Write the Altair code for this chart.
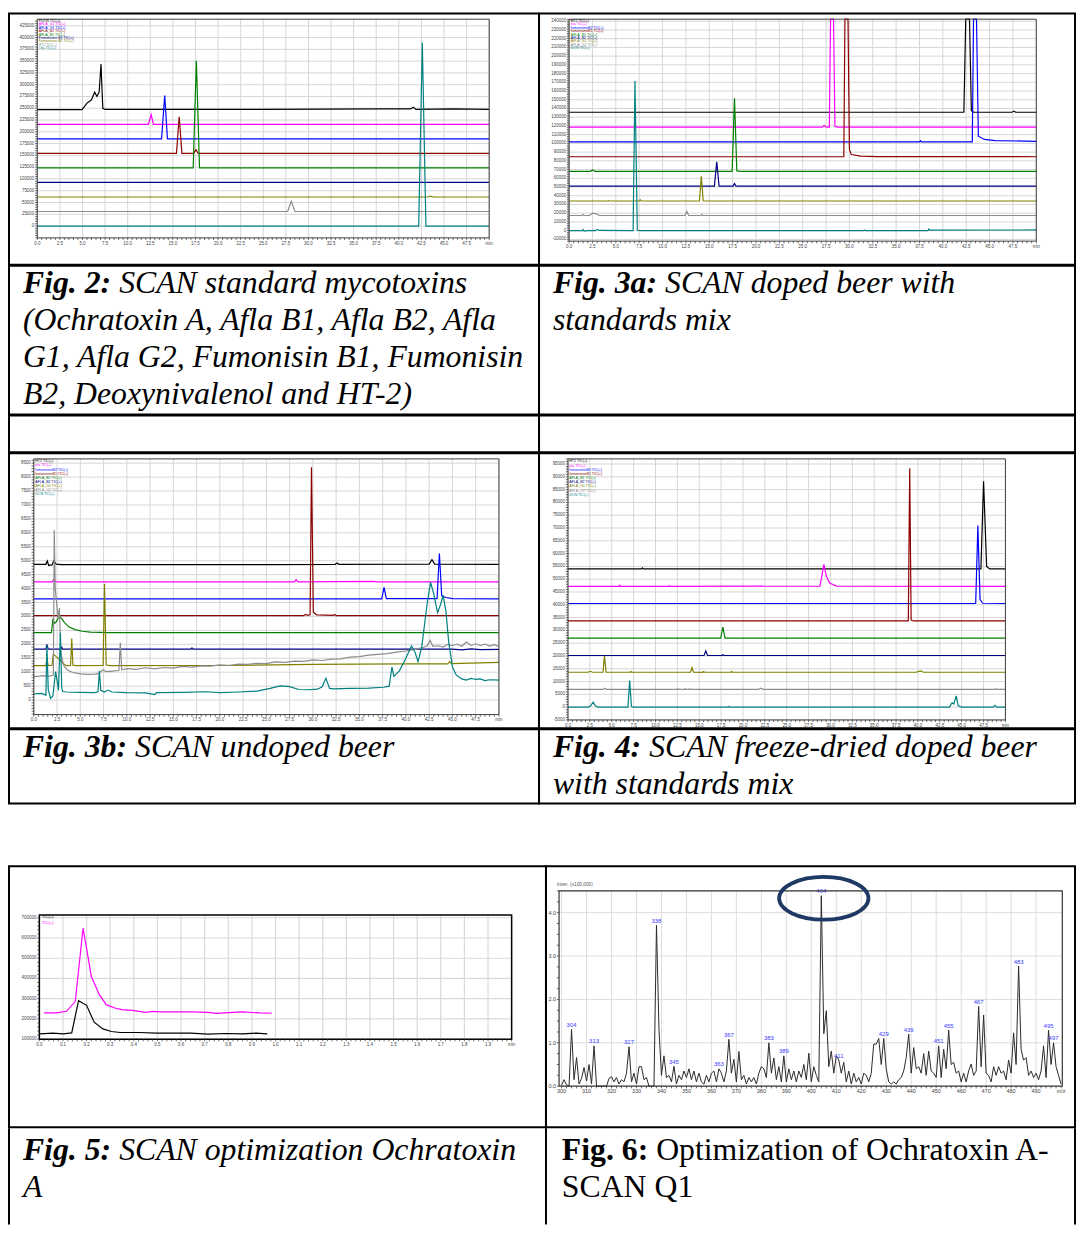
import altair as alt
import pandas as pd

# ===================== DATA =====================
# Fig. 2 - SCAN standard mycotoxins : (retention time [min], intensity)
F2_DON = [(0, 247000), (4.95, 247000), (5.5, 261000), (6.0, 268000), (6.35, 284000), (6.6, 275000),
          (6.85, 285000), (7.05, 343600), (7.25, 250000), (7.5, 247500), (25, 247500), (38, 248500),
          (41.3, 248500), (41.6, 252000), (41.9, 247500), (46, 248500), (50, 247500)]
F2_AG2 = [(0, 216000), (12.3, 216000), (12.6, 236300), (12.85, 216000), (50, 216000)]
F2_AG1 = [(0, 185100), (13.75, 185100), (14.1, 277000), (14.4, 185100), (50, 185100)]
F2_AB2 = [(0, 154300), (15.4, 154300), (15.7, 232100), (16.0, 154300), (17.3, 154300), (17.55, 162000),
          (17.8, 154300), (50, 154300)]
F2_AB1 = [(0, 123400), (17.25, 123400), (17.6, 350600), (17.95, 123400), (50, 123400)]
F2_FB1 = [(0, 92600), (50, 92600)]
F2_FB2 = [(0, 61700), (43.2, 61700), (43.5, 63500), (43.8, 61700), (50, 61700)]
F2_HT2 = [(0, 30900), (27.7, 30900), (28.1, 52600), (28.5, 30900), (50, 30900)]
F2_OTA = [(0, 0), (42.2, 0), (42.6, 389200), (43.0, 0), (50, 0)]
F2_NAMES = ["FDON TIC(+)", "AFLA_G2 TIC(+)", "AFLA_G1 TIC(+)", "AFLA_B2 TIC(+)", "AFLA_B1 TIC(+)",
            "Fumonisine B1 TIC(+)", "Fumonisine B2 TIC(+)", "HT2 TIC(+)", "Ota TIC(+)"]

# Fig. 3a - doped beer with standards mix (peaks leaving the frame are read at the frame top)
F3A_HT2 = [(0, 135700), (42.25, 135700), (42.45, 242300), (42.85, 242300), (43.05, 137500), (43.3, 135700),
           (47.4, 135700), (47.6, 137000), (47.8, 135700), (50, 135700)]
F3A_OTA = [(0, 118700), (27.1, 118700), (27.3, 120500), (27.5, 118700), (27.85, 118700), (27.98, 242300),
           (28.3, 242300), (28.45, 119500), (28.7, 118700), (50, 118700)]
F3A_FB2 = [(0, 101700), (37.5, 101700), (37.6, 103000), (37.7, 101700), (43.15, 101800), (43.28, 242300),
           (43.6, 242300), (43.8, 108200), (44.45, 104500), (45.6, 103200), (50, 102400)]
F3A_FB1 = [(0, 84700), (29.4, 84700), (29.52, 242300), (29.85, 242300), (30.0, 93000), (30.2, 87300),
           (31.2, 85400), (33, 84900), (50, 84700)]
F3A_AB1 = [(0, 68000), (2.3, 68000), (2.5, 69500), (2.8, 68000), (17.45, 68000), (17.7, 151600),
           (17.95, 68500), (18.3, 68000), (50, 68000)]
F3A_AB2 = [(0, 51000), (15.55, 51000), (15.8, 79000), (16.05, 51000), (17.55, 51000), (17.7, 54000),
           (17.85, 51000), (50, 51000)]
F3A_AG1 = [(0, 34000), (4.1, 34000), (4.2, 34500), (4.3, 34000), (7.5, 34000), (7.6, 35500), (7.7, 34000),
           (13.95, 34000), (14.15, 62400), (14.35, 34000), (50, 34000)]
F3A_AG2 = [(0, 17400), (1.4, 17400), (1.5, 18500), (1.6, 17400), (2.2, 17400), (2.5, 20000), (3.0, 19000),
           (3.2, 17400), (12.4, 17400), (12.6, 22300), (12.8, 17400), (14.1, 17400), (14.2, 18500),
           (14.3, 17400), (50, 17400)]
F3A_DON = [(0, 0), (1.4, 0), (1.5, 1200), (1.6, -500), (2.0, 0), (2.8, 0), (3.0, 1500), (3.2, 300),
           (6.85, 0), (7.05, 171600), (7.3, 500), (7.6, 0), (31.5, 0), (31.6, 800), (31.7, 0),
           (38.4, 0), (38.5, 1800), (38.6, 600), (50, 800)]
F3_NAMES = ["HT2 TIC(+)", "ota TIC(+)", "fumonisineB2 TIC(+)", "fumonisineB1 TIC(+)", "AFLA_B1 TIC(+)",
            "AFLA_B2 TIC(+)", "AFLA_G1 TIC(+)", "AFLA_G2 TIC(+)", "DON TIC(+)"]

# Fig. 3b - undoped beer
F3B_HT2 = [(0, 4870), (1.3, 4870), (1.45, 4990), (1.6, 4830), (1.95, 4850), (2.15, 4990), (2.4, 4880),
           (3.0, 4860), (15, 4860), (25, 4860), (32.4, 4870), (32.6, 4920), (32.8, 4870), (42.5, 4880),
           (42.8, 5040), (43.1, 4880), (50, 4870)]
F3B_OTA = [(0, 4240), (2.0, 4240), (2.15, 4330), (2.35, 4250), (2.6, 4240), (28.0, 4240), (28.2, 4320),
           (28.4, 4240), (36.5, 4260), (36.9, 4240), (50, 4240)]
F3B_FB2 = [(0, 3634), (37.4, 3634), (37.65, 4040), (37.9, 3640), (43.35, 3640), (43.6, 5260), (43.85, 3740),
           (44.3, 3680), (45.0, 3640), (50, 3630)]
F3B_FB1 = [(0, 3029), (29.0, 3029), (29.2, 3070), (29.45, 3040), (29.7, 3060), (29.85, 8349), (30.05, 3150),
           (30.4, 3060), (32.2, 3040), (32.35, 3070), (32.5, 3030), (50, 3029)]
F3B_AB1 = [(0, 2423), (1.9, 2423), (2.05, 2920), (2.2, 2750), (2.4, 2800), (2.7, 3017), (3.0, 2920),
           (3.3, 2780), (3.8, 2620), (4.45, 2530), (5.2, 2470), (6.1, 2440), (8, 2423), (50, 2423)]
F3B_AB2 = [(0, 1829), (1.3, 1829), (1.41, 2000), (1.55, 1829), (2.9, 1829), (3.0, 1900), (3.1, 1829),
           (16.9, 1829), (17.0, 1870), (17.1, 1829), (45, 1829), (46, 1800), (47, 1840), (48, 1810), (50, 1820)]
F3B_AG1 = [(0, 1235), (1.3, 1235), (1.41, 1500), (1.55, 1240), (1.95, 1240), (2.1, 1650), (2.4, 1560),
           (2.8, 1450), (3.2, 1300), (3.5, 1235), (3.95, 1240), (4.08, 2210), (4.2, 1260), (4.5, 1235),
           (7.45, 1240), (7.6, 4170), (7.78, 1260), (8.2, 1235), (20, 1240), (30, 1280), (40, 1300),
           (44.5, 1300), (44.7, 1380), (44.9, 1310), (50, 1354)]
F3B_AG2 = [(0, 843), (0.6, 860), (1.0, 880), (1.5, 850), (1.9, 880), (2.1, 900), (2.2, 6105), (2.3, 3990),
           (2.45, 3515), (2.6, 2900), (2.75, 3300), (2.9, 1700), (3.2, 1250), (3.6, 1080), (4.2, 990),
           (5.0, 940), (5.8, 920), (6.6, 930), (7.0, 960), (7.4, 1080), (7.8, 1020), (8.4, 1040),
           (9.15, 1060), (9.3, 2054), (9.45, 1090), (10, 1130), (11, 1100), (12, 1160), (13, 1120),
           (14, 1170), (15, 1150), (16, 1210), (17, 1180), (18, 1230), (19, 1220), (20, 1260), (21, 1240),
           (22, 1290), (23, 1280), (24, 1320), (25, 1310), (26, 1370), (27, 1350), (28, 1400), (29, 1390),
           (30, 1440), (31, 1420), (32, 1470), (33, 1480), (34, 1540), (35, 1560), (36, 1610), (37, 1640),
           (38, 1670), (39, 1720), (40, 1760), (41, 1820), (41.8, 1880), (42.3, 1950), (42.6, 2140),
           (42.9, 1930), (43.5, 1950), (44, 1900), (44.5, 2000), (45, 1950), (45.5, 2010), (46, 1930),
           (46.5, 2080), (47, 1960), (47.5, 2020), (48, 1950), (48.5, 2010), (49, 1940), (49.5, 1990),
           (50, 1920)]
F3B_DON = [(0, 226), (0.9, 240), (1.3, 170), (1.41, 1970), (1.55, 380), (1.8, 60), (2.05, 150), (2.34, 1021),
           (2.55, 600), (2.65, 350), (2.86, 2411), (3.0, 450), (3.1, 309), (3.5, 290), (5, 280), (6.5, 270),
           (6.9, 300), (7.05, 1050), (7.2, 350), (7.6, 290), (8.0, 360), (8.4, 290), (10, 270), (12, 260),
           (13, 200), (13.2, 270), (16, 280), (18.5, 300), (20, 270), (22, 290), (24, 320), (25.4, 420),
           (26.5, 511), (27.5, 480), (28.5, 380), (29.5, 370), (30.5, 390), (31.0, 480), (31.4, 784),
           (31.8, 420), (32.2, 400), (34, 420), (36, 430), (37.6, 460), (38.2, 500), (38.5, 1188),
           (38.7, 850), (39.3, 1050), (40.0, 1500), (40.6, 1948), (41.0, 1700), (41.3, 1380), (41.7, 1900),
           (42.3, 3500), (42.65, 4228), (43.0, 3800), (43.4, 3135), (43.7, 3400), (44.0, 3753), (44.3, 3200),
           (44.6, 2090), (45.0, 1200), (45.4, 903), (46.0, 760), (46.5, 720), (47.0, 780), (47.5, 740),
           (48.0, 760), (48.5, 700), (49, 730), (50, 713)]

# Fig. 4 - freeze-dried doped beer with standards mix
F4_HT2 = [(0, 54000), (8.4, 54000), (8.5, 54400), (8.6, 54000), (47.2, 54000), (47.5, 88300), (47.85, 55000),
          (48.2, 54000), (50, 54000)]
F4_OTA = [(0, 47170), (5.8, 47170), (5.9, 47600), (6.0, 47170), (11.5, 47170), (11.6, 47500), (11.7, 47170),
          (28.8, 47300), (29.0, 51000), (29.25, 55780), (29.5, 51500), (29.9, 48500), (30.7, 47300), (50, 47170)]
F4_FB2 = [(0, 40490), (46.6, 40490), (46.85, 70950), (47.1, 42000), (47.4, 40600), (50, 40490)]
F4_FB1 = [(0, 33680), (38.9, 33680), (39.06, 93320), (39.22, 34000), (39.5, 33680), (50, 33680)]
F4_AB1 = [(0, 27000), (17.45, 27000), (17.7, 31230), (17.95, 27000), (50, 27000)]
F4_AB2 = [(0, 20180), (15.55, 20180), (15.75, 21980), (15.95, 20180), (17.6, 20180), (17.7, 20500),
          (17.8, 20180), (50, 20180)]
F4_AG1 = [(0, 13625), (2.3, 13625), (2.56, 14000), (2.8, 13625), (4.0, 13625), (4.17, 20050), (4.35, 13700),
          (4.6, 13625), (7.1, 13625), (7.2, 13900), (7.3, 13625), (14.0, 13625), (14.17, 15420),
          (14.35, 13700), (15.4, 13625), (15.5, 13900), (15.6, 13625), (18.6, 13625), (18.7, 13900),
          (18.8, 13625), (39.8, 13625), (40.0, 13900), (40.35, 14200), (40.6, 13625), (50, 13625)]
F4_AG2 = [(0, 6940), (4.0, 6940), (4.2, 7400), (4.4, 6940), (12.5, 6940), (12.6, 7200), (12.7, 6940),
          (13.3, 6940), (13.4, 7200), (13.5, 6940), (13.8, 6940), (13.9, 7200), (14.0, 6940), (21.8, 6940),
          (22.0, 7400), (22.3, 6940), (23.0, 7000), (23.2, 6940), (48.8, 6940), (49.0, 7150), (49.2, 6940),
          (50, 6940)]
F4_DON = [(0, 0), (2.3, 0), (2.6, 500), (2.87, 1928), (3.1, 600), (3.4, 0), (6.85, 0), (7.05, 10410),
          (7.25, 200), (7.5, 0), (18.3, 0), (18.4, 300), (18.5, 0), (43.6, 0), (43.9, 1700), (44.1, 1200),
          (44.37, 4370), (44.6, 500), (45.0, 0), (48.6, 0), (48.8, 700), (49.0, 0), (50, 0)]

# Fig. 5 - SCAN optimization Ochratoxin A
F5_A = [(0.000, 126200), (0.057, 129500), (0.101, 126200), (0.137, 131100), (0.166, 290200), (0.200, 267200),
        (0.232, 183600), (0.269, 150800), (0.305, 137700), (0.342, 132800), (0.422, 132800), (0.495, 129500),
        (0.568, 129500), (0.641, 129500), (0.714, 124600), (0.787, 127900), (0.860, 126200), (0.918, 129500),
        (0.965, 126200)]
F5_B = [(0.020, 229500), (0.072, 229500), (0.115, 237700), (0.152, 286900), (0.185, 647500), (0.200, 549200),
        (0.220, 409800), (0.254, 319700), (0.283, 270500), (0.320, 254100), (0.349, 245900), (0.393, 242600),
        (0.451, 232800), (0.480, 237700), (0.509, 234400), (0.568, 234400), (0.641, 234400), (0.714, 232800),
        (0.750, 227900), (0.801, 231100), (0.860, 234400), (0.933, 229500), (0.984, 227900)]
F5_NAMES = ["TIC(+)", "TIC(+)"]

# Fig. 6 - Q1 scan spectrum, intensity (x100,000) at m/z 300 ... 500
SPEC_MZ = list(range(300, 501))
SPEC_I = [0.02, 0.15, 0.03, 0.0, 1.31, 0.15, 0.66, 0.05, 0.18, 0.43,
          0.12, 0.50, 0.05, 0.93, 0.0, 0.0, 0.0, 0.0, 0.0, 0.18,
          0.22, 0.10, 0.20, 0.05, 0.15, 0.10, 0.30, 0.91, 0.10, 0.30,
          0.05, 0.45, 0.45, 0.15, 0.20, 0.0, 0.0, 0.0, 3.71, 1.31,
          0.25, 0.70, 0.20, 0.25, 0.10, 0.46, 0.05, 0.25, 0.15, 0.35,
          0.20, 0.40, 0.15, 0.35, 0.10, 0.30, 0.10, 0.05, 0.25, 0.10,
          0.30, 0.35, 0.10, 0.40, 0.30, 0.10, 0.35, 1.08, 0.30, 0.62,
          0.10, 0.80, 0.15, 0.25, 0.05, 0.20, 0.10, 0.20, 0.05, 0.30,
          0.45, 0.40, 0.20, 1.00, 0.30, 0.65, 0.15, 0.45, 0.10, 0.70,
          0.10, 0.40, 0.15, 0.35, 0.10, 0.35, 0.20, 0.50, 0.15, 0.76,
          0.10, 0.45, 0.25, 0.10, 4.39, 1.21, 1.74, 0.45, 0.81, 0.30,
          0.70, 0.60, 0.30, 0.55, 0.10, 0.35, 0.05, 0.30, 0.10, 0.20,
          0.05, 0.30, 0.25, 0.10, 0.30, 0.97, 0.97, 1.10, 0.50, 1.10,
          0.40, 0.10, 0.05, 0.10, 0.05, 0.15, 0.20, 0.35, 0.66, 1.20,
          0.30, 0.89, 0.40, 0.45, 0.30, 0.75, 0.25, 0.81, 0.35, 0.30,
          0.20, 0.93, 0.20, 0.85, 0.40, 1.29, 0.50, 0.55, 0.30, 0.35,
          0.10, 0.30, 0.10, 0.35, 0.51, 0.25, 0.35, 1.84, 0.45, 1.64,
          0.30, 0.25, 0.10, 0.45, 0.25, 0.45, 0.30, 0.35, 0.15, 0.60,
          0.30, 1.23, 0.50, 2.77, 0.85, 0.60, 0.66, 0.25, 0.35, 0.20,
          0.30, 0.15, 0.35, 0.93, 0.20, 1.29, 0.50, 1.00, 0.45, 0.25,
          0.05]
PEAK_MZ = [304, 313, 327, 338, 345, 363, 367, 383, 389, 404, 411, 429, 439, 451, 455, 467, 483, 495, 497]
PEAK_I = [1.31, 0.93, 0.91, 3.71, 0.46, 0.40, 1.08, 1.00, 0.70, 4.39, 0.60, 1.10, 1.20, 0.93, 1.29, 1.84,
          2.77, 1.29, 1.00]
PEAK_TXT = [str(m) for m in PEAK_MZ]
HIGHLIGHT = [(405.0, 4.33)]  # centre of the drawn ellipse around the m/z 404 peak

# Captions
CAP2 = ["Fig. 2:", "SCAN standard mycotoxins", "(Ochratoxin A, Afla B1, Afla B2, Afla",
        "G1, Afla G2, Fumonisin B1, Fumonisin", "B2, Deoxynivalenol and HT-2)"]
CAP3A = ["Fig. 3a:", "SCAN doped beer with", "standards mix"]
CAP3B = ["Fig. 3b:", "SCAN undoped beer"]
CAP4 = ["Fig. 4:", "SCAN freeze-dried doped beer", "with standards mix"]
CAP5 = ["Fig. 5:", "SCAN optimization Ochratoxin", "A"]
CAP6 = ["Fig. 6:", "Optimization of Ochratoxin A-", "SCAN Q1"]

# ===================== STYLE / HELPERS =====================
COLORS = ["#000000", "#ff00ff", "#0000ff", "#8b0000", "#008000", "#000080", "#808000", "#8c8c8c", "#008080"]
SANS = "Liberation Sans"
SERIF = "Liberation Serif"
CAP_FS = 32
DUMMY = pd.DataFrame({"d": [0]})
ELLIPSE = ("M-1,0C-1,-0.264,-0.5523,-0.478,0,-0.478C0.5523,-0.478,1,-0.264,1,0"
           "C1,0.264,0.5523,0.478,0,0.478C-0.5523,0.478,-1,0.264,-1,0Z")
AX_C = "#333333"


def vb(stroke=True):
    if stroke:
        return alt.ViewBackground(stroke="black", strokeWidth=2)
    return alt.ViewBackground(stroke="transparent", strokeWidth=0)


def steps(a, b, s):
    n = int(round((b - a) / s))
    return [round(a + i * s, 6) for i in range(n + 1)]


def panel(w, h, box, xdom, ydom, xticks, xlabels, yticks, ylabels, xgrid, ygrid, main_layers, legend=None,
          leg_xy=(0, 0), leg_dy=3.5, leg_fs=3.6, frame="#404040", frame_w=1, grid_c="#d6d6d6", grid_w=1,
          fs=4.5, extra=None):
    """xlabels / ylabels : list of (value, text)."""
    l, r, t, b = box
    sx = alt.Scale(domain=xdom, range=[l, r], nice=False, zero=False)
    sy = alt.Scale(domain=ydom, range=[b, t], nice=False, zero=False)
    X = lambda f: alt.X(f, scale=sx, axis=None)
    Y = lambda f: alt.Y(f, scale=sy, axis=None)
    vg = pd.DataFrame({"t": xgrid, "v0": ydom[0], "v1": ydom[1]})
    hg = pd.DataFrame({"v": ygrid, "t0": xdom[0], "t1": xdom[1]})
    fr = pd.DataFrame({"t0": [xdom[0]], "t1": [xdom[1]], "v0": [ydom[0]], "v1": [ydom[1]]})
    xt = pd.DataFrame({"t": xticks, "v0": ydom[0]})
    yt = pd.DataFrame({"v": yticks, "t0": xdom[0]})
    xl = pd.DataFrame({"t": [a for a, _ in xlabels], "lab": [s for _, s in xlabels], "v0": ydom[0]})
    yl = pd.DataFrame({"v": [a for a, _ in ylabels], "lab": [s for _, s in ylabels], "t0": xdom[0]})
    layers = [
        alt.Chart(vg).mark_rule(color=grid_c, strokeWidth=grid_w).encode(x=X("t:Q"), y=Y("v0:Q"), y2="v1:Q"),
        alt.Chart(hg).mark_rule(color=grid_c, strokeWidth=grid_w).encode(y=Y("v:Q"), x=X("t0:Q"), x2="t1:Q"),
    ]
    for df, mk in main_layers:
        layers.append(mk(alt.Chart(df), dict(x=X("t:Q"), y=Y("v:Q"))))
    layers += [
        alt.Chart(fr).mark_rect(fillOpacity=0, stroke=frame, strokeWidth=frame_w).encode(
            x=X("t0:Q"), x2="t1:Q", y=Y("v0:Q"), y2="v1:Q"),
        # axis ticks
        alt.Chart(xt).mark_rule(color=AX_C, strokeWidth=0.7, y2Offset=2.2).encode(
            x=X("t:Q"), y=Y("v0:Q"), y2="v0:Q"),
        alt.Chart(yt).mark_rule(color=AX_C, strokeWidth=0.7, x2Offset=-2.2).encode(
            y=Y("v:Q"), x=X("t0:Q"), x2="t0:Q"),
        # axis labels
        alt.Chart(xl).mark_text(fontSize=fs, font=SANS, color="#444444", baseline="top", dy=2.8).encode(
            x=X("t:Q"), y=Y("v0:Q"), text="lab:N"),
        alt.Chart(yl).mark_text(fontSize=fs, font=SANS, color="#444444", align="right", baseline="middle",
                                dx=-3).encode(y=Y("v:Q"), x=X("t0:Q"), text="lab:N"),
    ]
    if extra:
        layers += extra(X, Y)
    if legend:
        for i, name in enumerate(legend):
            layers.append(alt.Chart(DUMMY).mark_text(
                text=name, x=leg_xy[0], y=leg_xy[1] + i * leg_dy, align="left", baseline="middle",
                fontSize=leg_fs, font=SANS, color=COLORS[i]))
    return alt.layer(*layers).properties(width=w, height=h, view=vb(True))


def traces_df(series):
    rows = []
    for i, s in enumerate(series):
        for tt, vv in s:
            rows.append({"t": tt, "v": vv, "s": i})
    return pd.DataFrame(rows)


def trace_mark(ch, enc):
    return ch.mark_line(strokeWidth=1.2).encode(
        color=alt.Color("s:N", scale=alt.Scale(domain=list(range(9)), range=COLORS), legend=None), **enc)


def chrom(series, names, w, h, box, ydom, ymaj, ymin_step, ymin_label, leg_xy, leg_dy):
    xticks = steps(0, 50, 0.5)
    xlabels = [(v, "min" if v >= 50 else "%.1f" % v) for v in steps(0, 50, 2.5)]
    lo = ymin_step * int(round(ydom[0] / ymin_step + 0.4999))
    hi = ymin_step * int(ydom[1] // ymin_step)
    yticks = steps(lo, hi, ymin_step)
    ymajor = [v for v in steps(ymin_label, hi, ymaj) if v % ymaj == 0]
    ylabels = [(v, "%d" % v) for v in ymajor]
    xgrid = steps(0, 50, 2.5)
    return panel(w, h, box, [0, 50], ydom, xticks, xlabels, yticks, ylabels, xgrid, ymajor,
                 [(traces_df(series), trace_mark)], legend=names, leg_xy=leg_xy, leg_dy=leg_dy)


def caption(w, h, lines, bold_italic=True, y0=28, dy=37, prefix_w=97, x0=14, border="box"):
    it = "italic" if bold_italic else "normal"
    base = dict(align="left", baseline="alphabetic", font=SERIF, fontSize=CAP_FS, color="black")
    layers = [alt.Chart(DUMMY).mark_text(text=lines[0], x=x0, y=y0, fontWeight="bold", fontStyle=it, **base),
              alt.Chart(DUMMY).mark_text(text=lines[1], x=x0 + prefix_w, y=y0, fontStyle=it, **base)]
    for k, ln in enumerate(lines[2:]):
        layers.append(alt.Chart(DUMMY).mark_text(text=ln, x=x0, y=y0 + (k + 1) * dy, fontStyle=it, **base))
    if border == "box":
        return alt.layer(*layers).properties(width=w, height=h, view=vb(True))
    # open-bottom cell: only vertical borders
    layers.append(alt.Chart(DUMMY).mark_rule(color="black", strokeWidth=2).encode(
        x=alt.value(0), y=alt.value(0), y2=alt.value(h)))
    if border == "both":
        layers.append(alt.Chart(DUMMY).mark_rule(color="black", strokeWidth=2).encode(
            x=alt.value(w), y=alt.value(0), y2=alt.value(h)))
    return alt.layer(*layers).properties(width=w, height=h, view=vb(False))


def blank(w, h, stroke=True):
    return alt.Chart(DUMMY).mark_text(text=" ").properties(width=w, height=h, view=vb(stroke))


# ===================== PANELS =====================
fig2 = chrom([F2_DON, F2_AG2, F2_AG1, F2_AB2, F2_AB1, F2_FB1, F2_FB2, F2_HT2, F2_OTA], F2_NAMES,
             534, 253, (28.5, 483.8, 5.7, 226.0), [-25000, 439000], 25000, 5000, 0, (30, 7.3), 3.47)
fig3a = chrom([F3A_HT2, F3A_OTA, F3A_FB2, F3A_FB1, F3A_AB1, F3A_AB2, F3A_AG1, F3A_AG2, F3A_DON], F3_NAMES,
              540, 253, (30.3, 501.0, 5.7, 229.3), [-12000, 242300], 10000, 2000, -10000, (32, 7.3), 3.47)
fig3b = chrom([F3B_HT2, F3B_OTA, F3B_FB2, F3B_FB1, F3B_AB1, F3B_AB2, F3B_AG1, F3B_AG2, F3B_DON], F3_NAMES,
              534, 277, (25.0, 493.6, 5.7, 263.3), [-520, 8653], 500, 100, 0, (26.5, 8.3), 4.05)
fig4 = chrom([F4_HT2, F4_OTA, F4_FB2, F4_FB1, F4_AB1, F4_AB2, F4_AG1, F4_AG2, F4_DON], F3_NAMES,
             540, 277, (29.2, 469.9, 5.7, 268.7), [-5000, 97000], 5000, 1000, -5000, (30.5, 8.3), 4.2)

# Fig. 5
f5_xlabels = [(v, "min" if v >= 2.0 else "%.1f" % v) for v in steps(0, 2.0, 0.1)]
f5_ylabels = [(v, "%d" % v) for v in steps(100000, 700000, 100000)]
fig5 = panel(541, 263, (30.6, 506.4, 49.3, 174.3), [0, 2.0], [100000, 713300],
             steps(0, 2.0, 0.02), f5_xlabels, steps(100000, 700000, 20000), f5_ylabels,
             steps(0, 2.0, 0.1), steps(100000, 700000, 100000),
             [(traces_df([F5_A, F5_B]), trace_mark)], legend=F5_NAMES, leg_xy=(33, 51.5), leg_dy=6.2,
             leg_fs=4.2, frame="#000000", frame_w=1.5, grid_c="#d9d9d9", grid_w=1.2)

# Fig. 6
spec_df = pd.DataFrame({"t": SPEC_MZ, "v": SPEC_I})
peak_df = pd.DataFrame({"t": PEAK_MZ, "v": PEAK_I, "lab": PEAK_TXT})
hl_df = pd.DataFrame({"t": [HIGHLIGHT[0][0]], "v": [HIGHLIGHT[0][1]]})


def spec_mark(ch, enc):
    return ch.mark_line(color="#2a2a2a", strokeWidth=1.0).encode(**enc)


def peak_mark(ch, enc):
    return ch.mark_text(color="#3b3bff", fontSize=6, dy=-1.5, baseline="bottom", font=SANS).encode(
        text="lab:N", **enc)


def f6_extra(X, Y):
    return [
        alt.Chart(hl_df).mark_point(shape=ELLIPSE, size=8100, filled=False, color="#1f3864", strokeWidth=3.8,
                                    opacity=1).encode(x=X("t:Q"), y=Y("v:Q")),
        alt.Chart(DUMMY).mark_text(text="Inten. (x100,000)", x=11, y=19.5, align="left", baseline="middle",
                                   fontSize=4.8, font=SANS, color="#555555"),
    ]


f6_xlabels = [(v, "m/z" if v >= 500 else "%d" % v) for v in steps(300, 500, 10)]
f6_ylabels = [(v, "%.1f" % v) for v in steps(0, 4, 1)]
fig6 = panel(533, 263, (13.2, 520.2, 25.0, 221.7), [299, 500.5], [0, 4.5],
             steps(300, 500, 2), f6_xlabels, steps(0, 4.5, 0.25), f6_ylabels,
             steps(300, 490, 10), [1, 2, 3, 4],
             [(spec_df, spec_mark), (peak_df, peak_mark)], frame="#333333", frame_w=1.2,
             grid_c="#dddddd", grid_w=1, fs=5.5, extra=f6_extra)

# ===================== CAPTIONS =====================
cap2 = caption(534, 150, CAP2, prefix_w=97)
cap3a = caption(540, 150, CAP3A, prefix_w=113)
cap3b = caption(534, 75, CAP3B, prefix_w=113)
cap4 = caption(540, 75, CAP4, prefix_w=97)
cap5 = caption(541, 97, CAP5, prefix_w=97, y0=32, border="left")
cap6 = caption(533, 97, CAP6, bold_italic=False, prefix_w=95, x0=16, y0=32, border="both")


def row(*charts):
    return alt.hconcat(*charts, spacing=0, bounds="flush")


chart = alt.vconcat(
    row(fig2, fig3a),
    row(cap2, cap3a),
    row(blank(534, 37), blank(540, 37)),
    row(fig3b, fig4),
    row(cap3b, cap4),
    blank(1074, 62, stroke=False),
    row(fig5, fig6),
    row(cap5, cap6),
    spacing=-2, bounds="full",
).properties(padding={"left": 0, "top": 0, "right": 0, "bottom": 0}).configure(font=SANS)

chart.save("out.html", embed_options={"renderer": "svg", "actions": False})
